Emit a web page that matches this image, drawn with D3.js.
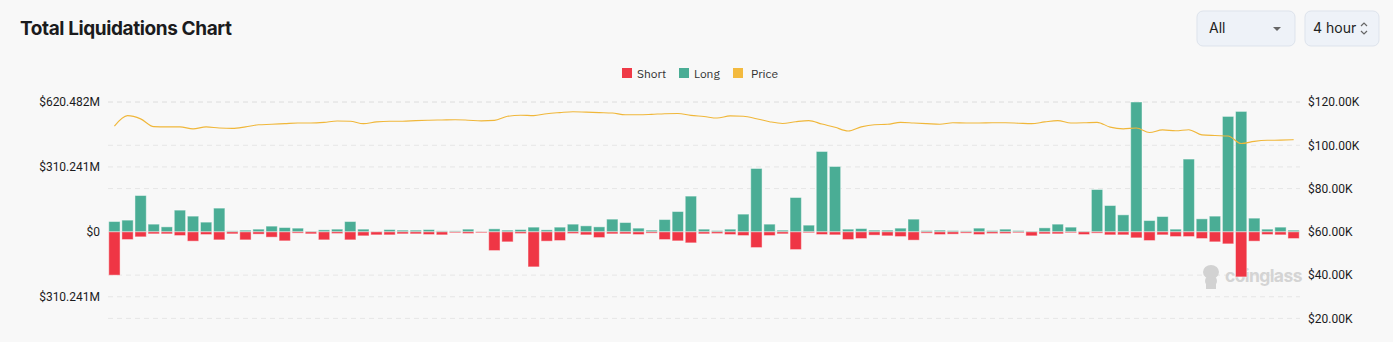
<!DOCTYPE html>
<html>
<head>
<meta charset="utf-8">
<style>
  body { margin: 0; background: #f8f8f8; }
  svg { display: block; }
</style>
</head>
<body>
<svg width="1393" height="342"></svg>
<script src="https://d3js.org/d3.v7.min.js"></script>
<script>

// data (millions of USD / thousands of USD)
var longs = [49.3, 56, 173.6, 36.8, 23.9, 103.8, 75.1, 46.4, 113.4, 4.8,
  8.1, 12.9, 27.3, 20.6, 17.7, 3.3, 9.6, 12.9, 49.3, 12.9,
  1.4, 11, 8.1, 8.1, 11, 4.8, 4.8, 12.9, 1.4, 14.4,
  8.1, 11, 22.5, 9.6, 22.5, 36.8, 28.7, 23.9, 60.7, 44.5,
  17.7, 8.1, 58.8, 97.1, 170.8, 12.9, 6.2, 12.9, 84.7, 302.8,
  36.8, 8.1, 164.1, 32, 384.1, 312.4, 12.9, 15.8, 8.1, 8.1,
  17.7, 60.7, 6.2, 8.1, 6.2, 4.8, 17.7, 6.2, 12.9, 6.2,
  3.3, 19.1, 36.8, 22.5, 3.3, 202.3, 125.8, 81.3, 620.482, 54,
  73.2, 12.9, 347.8, 62.2, 75.1, 551.6, 575.5, 65.5, 12.9, 22.5, 8.1];

var shorts = [207, 36.8, 23.9, 9.6, 9.6, 17.7, 44.5, 12.9, 38.3, 9.6,
  38.3, 11, 25.4, 43.1, 6.2, 9.6, 38.3, 8.1, 38.3, 19.1,
  14.4, 14.4, 9.6, 9.6, 12.9, 14.4, 4.8, 8.1, 4.8, 89.5,
  47.8, 8.1, 167.4, 44.5, 41.6, 8.1, 14.4, 27.3, 9.6, 9.6,
  12.9, 6.2, 36.8, 43.1, 52.6, 9.6, 8.1, 12.9, 17.7, 75.1,
  17.7, 9.6, 84.7, 4.8, 12.9, 14.4, 36.8, 32, 15.8, 19.1,
  22.5, 39.7, 6.2, 12.9, 11, 6.2, 12.9, 8.1, 8.1, 4.8,
  19.1, 9.6, 9.6, 4.8, 12.9, 6.2, 14.4, 14.4, 28.7, 41.6,
  14.4, 22.5, 22.5, 32, 47.8, 57.4, 215.3, 44.5, 12.9, 14.4, 32];

var prices = [108.9, 113.7, 112.2, 108.6, 108.5, 108.5, 107.6, 108.5, 108.0, 107.8,
  108.5, 109.5, 109.7, 110.0, 110.3, 110.3, 110.6, 111.2, 111.1, 110.0,
  110.8, 111.1, 111.1, 111.4, 111.6, 111.7, 111.8, 111.6, 111.3, 111.5,
  113.4, 113.9, 113.7, 114.6, 115.1, 115.5, 115.3, 115.1, 114.9, 114.1,
  114.1, 114.3, 114.6, 114.7, 113.8, 113.3, 112.6, 113.6, 113.4, 112.3,
  110.9, 110.1, 110.9, 111.4, 109.8, 108.3, 106.6, 108.5, 109.5, 109.7,
  110.6, 110.3, 110.0, 109.7, 110.4, 110.3, 110.3, 110.4, 110.4, 110.2,
  110.0, 110.8, 111.4, 110.3, 110.4, 110.6, 108.4, 107.6, 108.0, 105.9,
  107.1, 106.7, 107.2, 104.8, 104.5, 104.3, 100.8, 101.8, 102.3, 102.4, 102.6];

var periods = d3.range(longs.length);

var leftTicks = [-310.241, 0, 310.241, 620.482];
var rightTicks = [20, 40, 60, 80, 100, 120];

var legendItems = [
  { name: "Short", color: "#ef3a47" },
  { name: "Long", color: "#4aad95" },
  { name: "Price", color: "#f3ba3f" }
];

var svg = d3.select("svg");

var plotLeft = 108, plotRight = 1300, plotTop = 102, plotBottom = 361.7;

var x = d3.scaleBand()
    .domain(periods)
    .range([plotLeft, plotRight])
    .paddingInner(0.06)
    .paddingOuter(0.02);

var yL = d3.scaleLinear()
    .domain([-620.482, 620.482])
    .range([plotBottom, plotTop]);

var yR = d3.scaleLinear()
    .domain([0, 120])
    .range([plotBottom, plotTop]);

// title
svg.append("text")
    .attr("x", 20)
    .attr("y", 35)
    .attr("font-family", "Inter, sans-serif")
    .attr("font-weight", 700)
    .attr("font-size", 19)
    .attr("letter-spacing", -0.4)
    .attr("fill", "#1b1b1d")
    .text("Total Liquidations Chart");

// selectors
var sel = svg.append("g");
sel.append("rect")
    .attr("x", 1197).attr("y", 11).attr("width", 98).attr("height", 35)
    .attr("rx", 6).attr("fill", "#eef2f8").attr("stroke", "#dde3ec");
sel.append("text")
    .attr("x", 1209).attr("y", 33)
    .attr("font-family", "Inter, sans-serif").attr("font-size", 14)
    .attr("fill", "#222").text("All");
sel.append("path")
    .attr("d", "M1273,27 L1281,27 L1277,31 Z")
    .attr("fill", "#666");
sel.append("rect")
    .attr("x", 1305).attr("y", 11).attr("width", 74).attr("height", 35)
    .attr("rx", 6).attr("fill", "#eef2f8").attr("stroke", "#dde3ec");
sel.append("text")
    .attr("x", 1313).attr("y", 33)
    .attr("font-family", "Inter, sans-serif").attr("font-size", 14)
    .attr("fill", "#222").text("4 hour");
sel.append("path")
    .attr("d", "M1361,26 L1364,23 L1367,26 M1361,31 L1364,34 L1367,31")
    .attr("fill", "none").attr("stroke", "#666").attr("stroke-width", 1.2);

// legend
var legend = svg.append("g")
    .attr("font-family", "'IBM Plex Sans', Roboto, sans-serif")
    .attr("font-size", 12);
var lx = [622, 679, 733];
var tx = [637, 694, 751];
legendItems.forEach(function(d, i) {
  legend.append("rect")
      .attr("x", lx[i]).attr("y", 68).attr("width", 10).attr("height", 10)
      .attr("fill", d.color);
  legend.append("text")
      .attr("x", tx[i]).attr("y", 77.5)
      .attr("fill", "#333")
      .text(d.name);
});

// gridlines
var grid = svg.append("g")
    .attr("stroke", "#e6e6e6")
    .attr("stroke-dasharray", "5,4");
leftTicks.concat([-620.482]).forEach(function(t) {
  if (t === 0) return;
  grid.append("line")
      .attr("x1", plotLeft).attr("x2", plotRight)
      .attr("y1", yL(t)).attr("y2", yL(t));
});
rightTicks.forEach(function(t) {
  grid.append("line")
      .attr("x1", plotLeft).attr("x2", plotRight)
      .attr("y1", yR(t)).attr("y2", yR(t));
});

// left axis
var axL = svg.append("g")
    .attr("transform", "translate(" + (plotLeft - 8) + ",0)")
    .call(d3.axisLeft(yL)
        .tickValues(leftTicks)
        .tickSize(0)
        .tickPadding(0)
        .tickFormat(function(d) { return d === 0 ? "$0" : "$" + Math.abs(d).toFixed(3) + "M"; }));
axL.select(".domain").remove();
axL.selectAll("text")
    .attr("font-family", "Roboto, sans-serif")
    .attr("font-size", 12)
    .attr("fill", "#1b1b1d");

// right axis
var axR = svg.append("g")
    .attr("transform", "translate(" + (plotRight + 8) + ",0)")
    .call(d3.axisRight(yR)
        .tickValues(rightTicks)
        .tickSize(0)
        .tickPadding(0)
        .tickFormat(function(d) { return "$" + d.toFixed(2) + "K"; }));
axR.select(".domain").remove();
axR.selectAll("text")
    .attr("font-family", "Roboto, sans-serif")
    .attr("font-size", 12)
    .attr("fill", "#1b1b1d");

// watermark
var wm = svg.append("g").attr("fill", "#d2d2d2");
wm.append("ellipse").attr("cx", 1211).attr("cy", 272).attr("rx", 8).attr("ry", 7);
wm.append("ellipse").attr("cx", 1211).attr("cy", 281).attr("rx", 6).attr("ry", 6);
wm.append("rect").attr("x", 1206).attr("y", 284).attr("width", 10).attr("height", 5);
wm.append("text")
    .attr("x", 1225).attr("y", 282)
    .attr("font-family", "Inter, sans-serif")
    .attr("font-weight", 700)
    .attr("font-size", 17.5)
    .attr("letter-spacing", -0.6)
    .attr("fill", "#d4d4d4")
    .text("coinglass");

// bars
var bars = svg.append("g")
    .attr("stroke", "rgba(255,255,255,0.45)")
    .attr("stroke-width", 1);

bars.selectAll("rect.long")
  .data(periods)
  .enter().append("rect")
    .attr("class", "long")
    .attr("x", function(i) { return x(i) + 0.5; })
    .attr("width", x.bandwidth() - 1)
    .attr("y", function(i) { return yL(longs[i]); })
    .attr("height", function(i) { return yL(0) - yL(longs[i]); })
    .attr("fill", "#4aad95");

bars.selectAll("rect.short")
  .data(periods)
  .enter().append("rect")
    .attr("class", "short")
    .attr("x", function(i) { return x(i) + 0.5; })
    .attr("width", x.bandwidth() - 1)
    .attr("y", yL(0))
    .attr("height", function(i) { return yL(-shorts[i]) - yL(0); })
    .attr("fill", "#ef3645");

// price line
var line = d3.line()
    .x(function(d, i) { return x(i) + x.bandwidth() / 2; })
    .y(function(d) { return yR(d); })
    .curve(d3.curveMonotoneX);

svg.append("path")
    .datum(prices)
    .attr("d", line)
    .attr("fill", "none")
    .attr("stroke", "#f0b73a")
    .attr("stroke-width", 1.1);

</script>
</body>
</html>
